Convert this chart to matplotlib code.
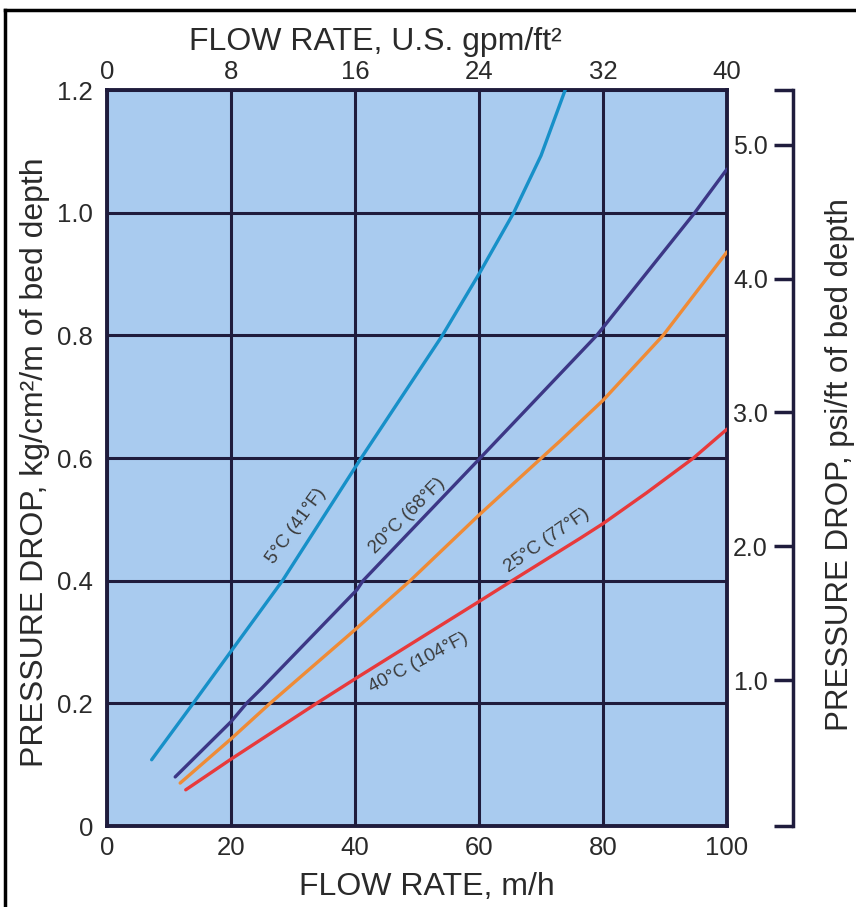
import matplotlib
matplotlib.use('Agg')
import matplotlib.pyplot as plt
from matplotlib.lines import Line2D

# ---------------- data ----------------
flow_ticks = [0, 20, 40, 60, 80, 100]
gpm_ticks = [0, 8, 16, 24, 32, 40]
dp_ticks = [0, 0.2, 0.4, 0.6, 0.8, 1.0, 1.2]
dp_labels = ['0', '0.2', '0.4', '0.6', '0.8', '1.0', '1.2']
psi_ticks = [1.0, 2.0, 3.0, 4.0, 5.0]
psi_labels = ['1.0', '2.0', '3.0', '4.0', '5.0']

c5_x = [7.2, 13.9, 19.8, 28.3, 41.0, 54.1, 60.0, 65.6, 70.0, 73.9]
c5_y = [0.108, 0.200, 0.282, 0.400, 0.600, 0.800, 0.900, 1.000, 1.093, 1.200]

c20_x = [11.0, 20.0, 22.5, 24.9, 40.3, 41.3, 60.2, 79.0, 94.8, 100.0]
c20_y = [0.080, 0.170, 0.200, 0.224, 0.385, 0.400, 0.600, 0.800, 1.000, 1.071]

c25_x = [11.8, 20.0, 26.3, 40.0, 48.9, 60.0, 73.1, 80.0, 89.7, 100.0]
c25_y = [0.070, 0.142, 0.200, 0.320, 0.400, 0.507, 0.628, 0.694, 0.800, 0.936]

c40_x = [12.7, 20.0, 33.8, 40.5, 60.0, 65.5, 76.3, 80.0, 87.0, 94.6, 100.0]
c40_y = [0.059, 0.109, 0.200, 0.243, 0.366, 0.401, 0.469, 0.493, 0.543, 0.600, 0.647]

curve_labels = ['5°C (41°F)', '20°C (68°F)', '25°C (77°F)', '40°C (104°F)']

# ---------------- style ----------------
FAM = ['Liberation Sans', 'DejaVu Sans']
plt.rcParams['font.family'] = FAM

BG = '#a9cbef'
GRID = '#1f1c3d'
TXT = '#2a2a2a'
colors = ['#1790c8', '#3c3786', '#ef8b36', '#e83a3b']

W, H = 856, 907
fig = plt.figure(figsize=(W / 100, H / 100), dpi=100)

L, R, T, B = 107, 727, 90, 826
ax = fig.add_axes([L / W, 1 - B / H, (R - L) / W, (B - T) / H])
ax.set_facecolor(BG)
ax.set_xlim(0, 100)
ax.set_ylim(0, 1.2)
ax.set_xticks(flow_ticks)
ax.set_xticklabels([str(v) for v in flow_ticks], fontsize=18.5, color=TXT)
ax.set_yticks(dp_ticks)
ax.set_yticklabels(dp_labels, fontsize=18.5, color=TXT)
ax.tick_params(axis='both', length=0)
ax.tick_params(axis='x', pad=7)
ax.tick_params(axis='y', pad=10)
ax.grid(True, color=GRID, linewidth=2.2)
ax.set_axisbelow(True)
for s in ax.spines.values():
    s.set_color(GRID)
    s.set_linewidth(2.8)

for xs, ys, c in zip([c5_x, c20_x, c25_x, c40_x], [c5_y, c20_y, c25_y, c40_y], colors):
    ax.plot(xs, ys, color=c, linewidth=2.4, solid_capstyle='round',
            solid_joinstyle='round', zorder=3)

label_pos = [(30.6, 0.489, 54), (48.5, 0.506, 45), (71.0, 0.466, 35), (50.2, 0.267, 28)]
for (x, y, rot), txt in zip(label_pos, curve_labels):
    ax.text(x, y, txt, rotation=rot, rotation_mode='anchor', ha='center', va='center',
            fontsize=13.5, color='#3a3a3a', zorder=4)

top = ax.secondary_xaxis('top', functions=(lambda x: x / 2.5, lambda g: g * 2.5))
top.set_xticks(gpm_ticks)
top.set_xticklabels([str(v) for v in gpm_ticks], fontsize=18.5, color=TXT)
top.tick_params(length=0, pad=4)
top.spines['top'].set_visible(False)

TS = 23
fig.text(375 / W, 1 - 42 / H, 'FLOW RATE, U.S. gpm/ft²', ha='center', va='center',
         fontsize=TS, color=TXT)
fig.text(427 / W, 1 - 887 / H, 'FLOW RATE, m/h', ha='center', va='center',
         fontsize=TS, color=TXT)
fig.text(35 / W, 1 - 462 / H, 'PRESSURE DROP, kg/cm²/m of bed depth', rotation=90,
         ha='center', va='center', fontsize=TS, color=TXT)
fig.text(840 / W, 1 - 465 / H, 'PRESSURE DROP, psi/ft of bed depth', rotation=90,
         ha='center', va='center', fontsize=22.5, color=TXT)

# right-hand psi scale (bracket axis)
SX = 793
ax3 = fig.add_axes([SX / W, 1 - B / H, 0.0001, (B - T) / H])
ax3.patch.set_visible(False)
for k in ['top', 'right', 'bottom']:
    ax3.spines[k].set_visible(False)
ax3.spines['left'].set_color(GRID)
ax3.spines['left'].set_linewidth(2.5)
ax3.set_xticks([])
psi_lo = 1.0 - (B - 680) / 133.75
psi_hi = 1.0 + (680 - T) / 133.75
ax3.set_ylim(psi_lo, psi_hi)
ax3.set_yticks(psi_ticks)
ax3.set_yticklabels(psi_labels, fontsize=18, color=TXT)
ax3.set_yticks([psi_lo, psi_hi], minor=True)
ax3.tick_params(axis='y', which='both', direction='out', length=14, width=2.5, color=GRID, pad=4)
ax3.tick_params(axis='y', which='minor', labelleft=False)

# outer frame
fig.add_artist(Line2D([5 / W, 1.0], [1 - 10 / H, 1 - 10 / H], transform=fig.transFigure,
                      color='black', linewidth=2.5))
fig.add_artist(Line2D([5 / W, 5 / W], [1 - 10 / H, 0.0], transform=fig.transFigure,
                      color='black', linewidth=2.5))

fig.savefig('out.png', dpi=100)
